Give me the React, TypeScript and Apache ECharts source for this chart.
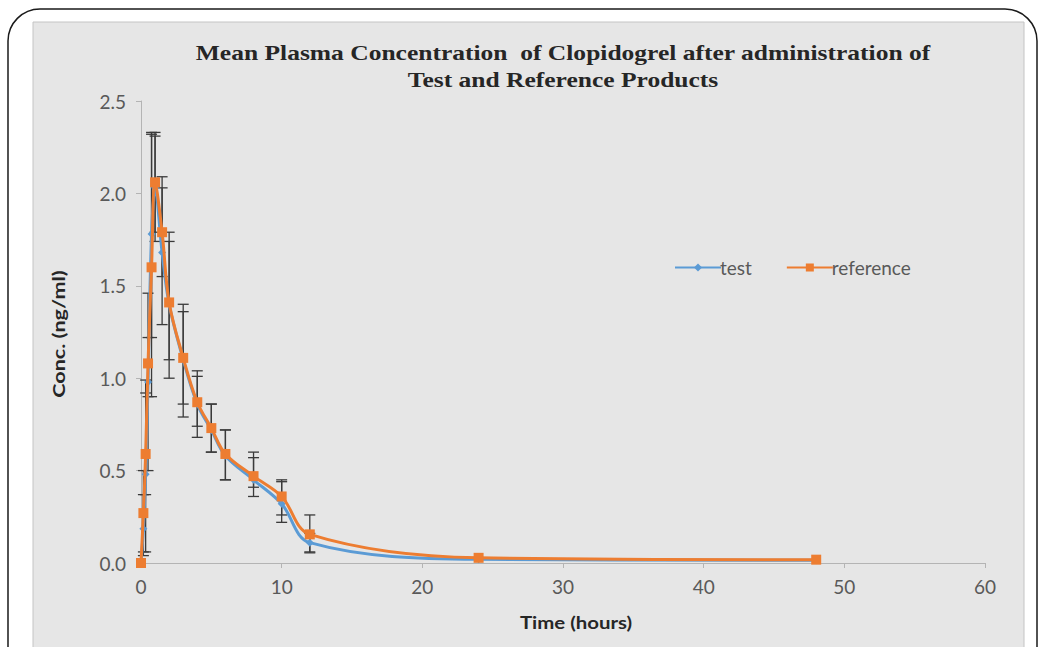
import React, { useEffect, useRef } from "react";
import * as echarts from "echarts";

const times = [0, 0.17, 0.33, 0.5, 0.75, 1, 1.5, 2, 3, 4, 5, 6, 8, 10, 12, 24, 48];
const testMean = [0, 0.185, 0.48, 0.98, 1.78, 2.03, 1.68, 1.4, 1.1, 0.86, 0.72, 0.58, 0.45, 0.32, 0.11, 0.02, 0.015];
const refMean = [0, 0.27, 0.59, 1.08, 1.6, 2.06, 1.79, 1.41, 1.11, 0.87, 0.73, 0.59, 0.47, 0.36, 0.155, 0.028, 0.018];
const testLow = [0, 0.04, 0.06, 0.5, 1.22, 1.74, 1.29, 1.1, 0.86, 0.74, 0.6, 0.45, 0.41, 0.22, 0.06, 0.02, 0.015];
const testHigh = [0, 0.37, 0.92, 1.46, 2.32, 2.31, 2.03, 1.74, 1.36, 1.01, 0.86, 0.72, 0.57, 0.44, 0.16, 0.02, 0.015];
const refLow = [0, 0.06, 0.37, 0.9, 0.9, 1.79, 1.55, 1.0, 0.79, 0.68, 0.6, 0.45, 0.36, 0.26, 0.055, 0.028, 0.018];
const refHigh = [0, 0.5, 0.99, 1.22, 2.33, 2.33, 2.09, 1.79, 1.4, 1.04, 0.86, 0.72, 0.6, 0.45, 0.26, 0.028, 0.018];

const xTicks = [0, 10, 20, 30, 40, 50, 60];
const yTicks = [0, 0.5, 1.0, 1.5, 2.0, 2.5];

const titleLines = [
  "Mean Plasma Concentration  of Clopidogrel after administration of",
  "Test and Reference Products",
];

const LABEL_FONT = "Lato, 'Open Sans', sans-serif";

function errorSeries(name: string, lows: number[], highs: number[]) {
  const data = times.map((t, i) => [t, lows[i], highs[i]]);
  return {
    type: "custom",
    name,
    z: 1,
    silent: true,
    encode: { x: 0, y: [1, 2] },
    data,
    renderItem: (params: any, api: any) => {
      const x = api.value(0);
      const lo = api.coord([x, api.value(1)]);
      const hi = api.coord([x, api.value(2)]);
      if (Math.abs(lo[1] - hi[1]) < 1) return { type: "group", children: [] };
      const hw = 5.5;
      const st = { stroke: "#3a3a3a", lineWidth: 1.3 };
      return {
        type: "group",
        children: [
          { type: "line", shape: { x1: lo[0], y1: lo[1], x2: hi[0], y2: hi[1] }, style: st },
          { type: "line", shape: { x1: lo[0] - hw, y1: lo[1], x2: lo[0] + hw, y2: lo[1] }, style: st },
          { type: "line", shape: { x1: hi[0] - hw, y1: hi[1], x2: hi[0] + hw, y2: hi[1] }, style: st },
        ],
      };
    },
  };
}

export default function App() {
  const ref = useRef<HTMLDivElement>(null);
  useEffect(() => {
    const chart = echarts.init(ref.current!, undefined, { renderer: "svg" });
    const titleStyle = {
      textAlign: "center",
      textVerticalAlign: "middle",
      fontFamily: "'Liberation Serif', serif",
      fontWeight: "bold",
      fontSize: 22,
      fill: "#262626",
    };
    const axisTitleStyle = {
      textAlign: "center",
      textVerticalAlign: "middle",
      fontFamily: LABEL_FONT,
      fontWeight: "bold",
      fontSize: 17,
      fill: "#262626",
    };
    chart.setOption({
      animation: false,
      backgroundColor: "#ffffff",
      grid: { left: 141, right: 55, top: 101, bottom: 84, containLabel: false },
      xAxis: {
        type: "value",
        min: xTicks[0],
        max: xTicks[xTicks.length - 1],
        interval: 10,
        axisLine: { lineStyle: { color: "#b4b4b4", width: 1 } },
        axisTick: { show: true, length: 5, lineStyle: { color: "#b4b4b4" } },
        axisLabel: { color: "#595959", fontSize: 19, fontFamily: LABEL_FONT, margin: 14 },
        splitLine: { show: false },
      },
      yAxis: {
        type: "value",
        min: yTicks[0],
        max: yTicks[yTicks.length - 1],
        interval: 0.5,
        axisLine: { show: true, lineStyle: { color: "#b4b4b4", width: 1 } },
        axisTick: { show: true, length: 5, lineStyle: { color: "#b4b4b4" } },
        axisLabel: {
          color: "#595959",
          fontSize: 19,
          fontFamily: LABEL_FONT,
          margin: 15,
          formatter: (v: number) => v.toFixed(1),
        },
        splitLine: { show: false },
      },
      legend: {
        left: 669,
        top: 253,
        itemWidth: 46,
        itemHeight: 10,
        itemGap: 34,
        textStyle: { color: "#595959", fontSize: 19, fontFamily: LABEL_FONT, padding: [0, 0, 0, -6] },
        data: ["test", "reference"],
      },
      graphic: [
        {
          type: "rect",
          z: -10,
          shape: { x: 8, y: 9, width: 1029, height: 720, r: 32 },
          style: { fill: "#ffffff", stroke: "#1a1a1a", lineWidth: 1.5 },
        },
        {
          type: "rect",
          z: -9,
          shape: { x: 33, y: 22, width: 991, height: 720 },
          style: { fill: "#e6e6e6", stroke: "#c4c4c4", lineWidth: 1 },
        },
        {
          type: "text",
          z: 5,
          x: 563,
          y: 53,
          scaleX: 1.16,
          style: { ...titleStyle, text: titleLines[0] },
        },
        {
          type: "text",
          z: 5,
          x: 563,
          y: 80,
          scaleX: 1.16,
          style: { ...titleStyle, text: titleLines[1] },
        },
        {
          type: "text",
          z: 5,
          x: 58,
          y: 334,
          rotation: Math.PI / 2,
          scaleX: 1.27,
          style: { ...axisTitleStyle, text: "Conc. (ng/ml)" },
        },
        {
          type: "text",
          z: 5,
          x: 576,
          y: 622,
          scaleX: 1.2,
          style: { ...axisTitleStyle, text: "Time (hours)" },
        },
      ],
      series: [
        errorSeries("testErr", testLow, testHigh),
        errorSeries("refErr", refLow, refHigh),
        {
          type: "line",
          name: "test",
          z: 3,
          smooth: 0.35,
          data: times.map((t, i) => [t, testMean[i]]),
          symbol: "diamond",
          symbolSize: 8,
          lineStyle: { color: "#5b9bd5", width: 3 },
          itemStyle: { color: "#5b9bd5" },
        },
        {
          type: "line",
          name: "reference",
          z: 4,
          smooth: 0.35,
          data: times.map((t, i) => [t, refMean[i]]),
          symbol: "rect",
          symbolSize: 10,
          lineStyle: { color: "#ed7d31", width: 3 },
          itemStyle: { color: "#ed7d31" },
        },
      ],
    });
    return () => chart.dispose();
  }, []);
  return (
    <div
      ref={ref}
      style={{ position: "absolute", left: 0, top: 0, width: 1040, height: 647 }}
    />
  );
}
